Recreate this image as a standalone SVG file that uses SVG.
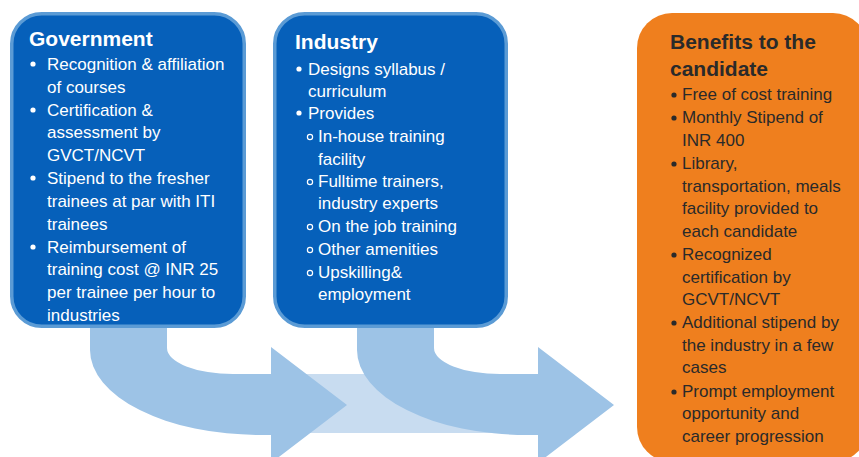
<svg xmlns="http://www.w3.org/2000/svg" width="859" height="457" viewBox="0 0 859 457">
<style>
.box{fill:#0660ba;stroke:#5b9bd5;stroke-width:3.5}
.orange{fill:#ef7f1e}
.arrow{fill:#9dc3e6}
.band{fill:#c8dcf0}
.h{font-family:"Liberation Sans",Arial,sans-serif;font-weight:bold;font-size:21px}
.t{font-family:"Liberation Sans",Arial,sans-serif;font-size:17px}
.w{fill:#ffffff}
.d{fill:#2a2a2a}
.hb{fill:none;stroke:#ffffff;stroke-width:1.2}
</style>
<rect width="859" height="457" fill="#ffffff"/>
<g id="connectors">
<rect class="band" x="271" y="374" width="270" height="59"/>
<path class="arrow" d="M90,300 L167,300 L167,348 A66,26 0 0 0 233,374 L271,374 L271,347 L347,405 L271,463 L271,435 L260,435 A170,85 0 0 1 90,350 Z"/>
<path class="arrow" d="M357,300 L434,300 L434,348 A66,26 0 0 0 500,374 L538,374 L538,347 L614,405 L538,463 L538,435 L527,435 A170,85 0 0 1 357,350 Z"/>
</g>
<g id="government">
<rect class="box" x="11.75" y="13.75" width="232.5" height="312.5" rx="30"/>
<text class="h w" x="29" y="46">Government</text>
<g class="w">
<circle cx="33" cy="64" r="2.6"/><circle cx="33" cy="110" r="2.6"/><circle cx="33" cy="178" r="2.6"/><circle cx="33" cy="247" r="2.6"/>
</g>
<text class="t w" x="47" y="70">Recognition &amp; affiliation</text>
<text class="t w" x="47" y="93">of courses</text>
<text class="t w" x="47" y="116">Certification &amp;</text>
<text class="t w" x="47" y="138">assessment by</text>
<text class="t w" x="47" y="161">GVCT/NCVT</text>
<text class="t w" x="47" y="184">Stipend to the fresher</text>
<text class="t w" x="47" y="207">trainees at par with ITI</text>
<text class="t w" x="47" y="230">trainees</text>
<text class="t w" x="47" y="253">Reimbursement of</text>
<text class="t w" x="47" y="275">training cost @ INR 25</text>
<text class="t w" x="47" y="298">per trainee per hour to</text>
<text class="t w" x="47" y="321">industries</text>
</g>
<g id="industry">
<rect class="box" x="274.75" y="13.75" width="231.5" height="312.5" rx="30"/>
<text class="h w" x="295" y="49">Industry</text>
<g class="w"><circle cx="299" cy="69" r="2.6"/><circle cx="299" cy="113" r="2.6"/></g>
<g class="hb"><circle cx="310" cy="137" r="2.6"/><circle cx="310" cy="182" r="2.6"/><circle cx="310" cy="227" r="2.6"/><circle cx="310" cy="250" r="2.6"/><circle cx="310" cy="273" r="2.6"/></g>
<text class="t w" x="308" y="75">Designs syllabus /</text>
<text class="t w" x="308" y="97">curriculum</text>
<text class="t w" x="308" y="119">Provides</text>
<text class="t w" x="318" y="142">In-house training</text>
<text class="t w" x="318" y="165">facility</text>
<text class="t w" x="318" y="187">Fulltime trainers,</text>
<text class="t w" x="318" y="209">industry experts</text>
<text class="t w" x="318" y="232">On the job training</text>
<text class="t w" x="318" y="255">Other amenities</text>
<text class="t w" x="318" y="278">Upskilling&amp;</text>
<text class="t w" x="318" y="300">employment</text>
</g>
<g id="benefits">
<rect class="orange" x="637" y="13" width="231" height="449" rx="35"/>
<text class="h d" x="670" y="49">Benefits to the</text>
<text class="h d" x="670" y="76">candidate</text>
<g class="d"><circle cx="674" cy="95" r="2.6"/><circle cx="674" cy="118" r="2.6"/><circle cx="674" cy="164" r="2.6"/><circle cx="674" cy="255" r="2.6"/><circle cx="674" cy="323" r="2.6"/><circle cx="674" cy="392" r="2.6"/></g>
<text class="t d" x="682" y="100">Free of cost training</text>
<text class="t d" x="682" y="123">Monthly Stipend of</text>
<text class="t d" x="682" y="146">INR 400</text>
<text class="t d" x="682" y="169">Library,</text>
<text class="t d" x="682" y="192">transportation, meals</text>
<text class="t d" x="682" y="214">facility provided to</text>
<text class="t d" x="682" y="237">each candidate</text>
<text class="t d" x="682" y="260">Recognized</text>
<text class="t d" x="682" y="283">certification by</text>
<text class="t d" x="682" y="305">GCVT/NCVT</text>
<text class="t d" x="682" y="328">Additional stipend by</text>
<text class="t d" x="682" y="351">the industry in a few</text>
<text class="t d" x="682" y="373">cases</text>
<text class="t d" x="682" y="397">Prompt employment</text>
<text class="t d" x="682" y="419">opportunity and</text>
<text class="t d" x="682" y="442">career progression</text>
</g>
</svg>
